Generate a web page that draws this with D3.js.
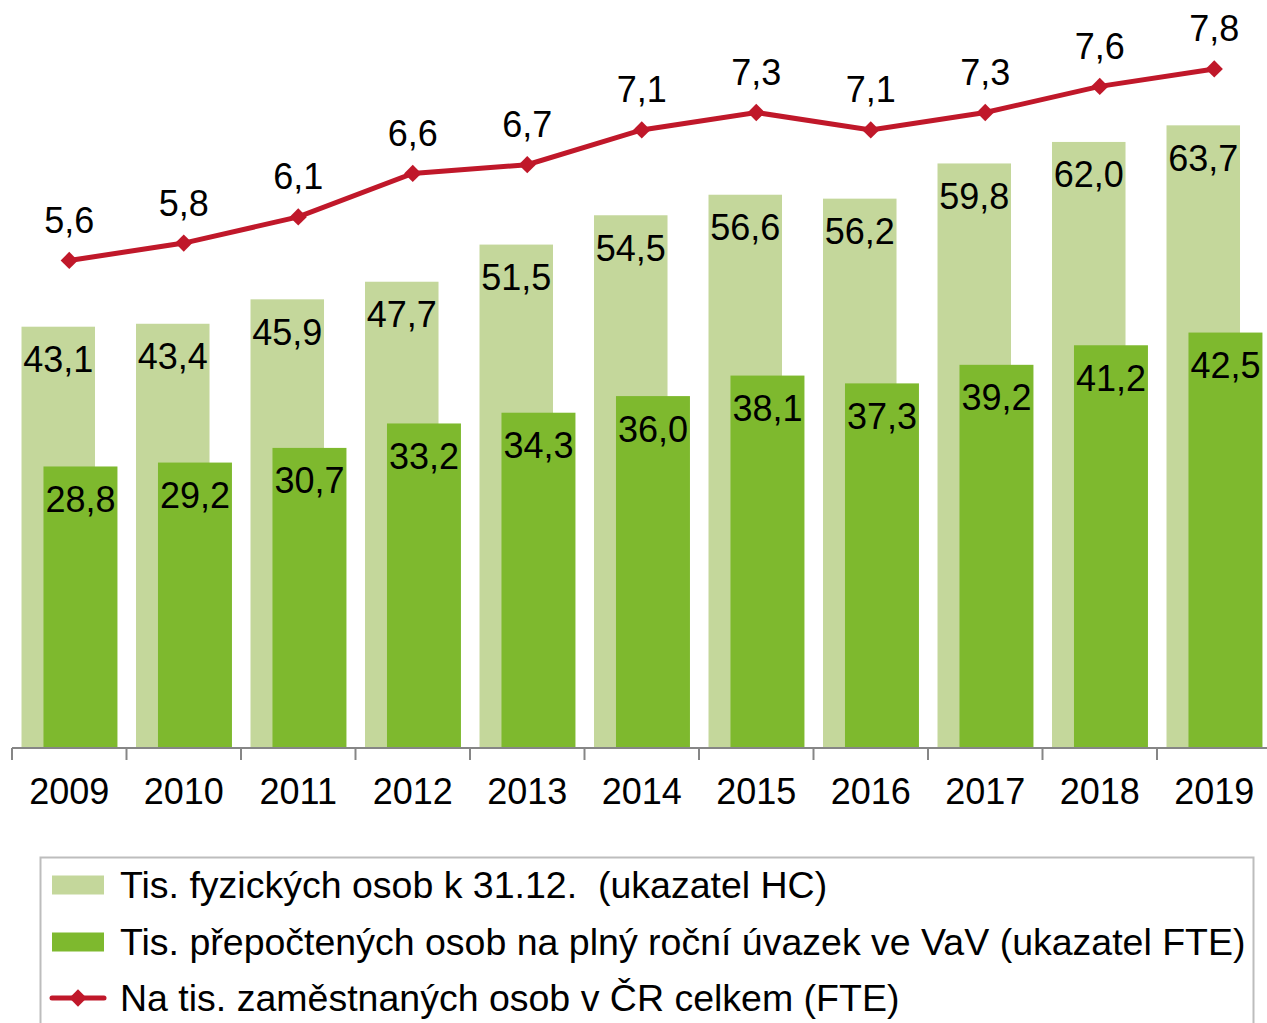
<!DOCTYPE html>
<html><head><meta charset="utf-8">
<script src="https://cdn.jsdelivr.net/npm/d3@7/dist/d3.min.js"></script>
<style>body{margin:0;background:#fff;} svg{display:block;font-family:"Liberation Sans",Arial,sans-serif;} text{white-space:pre;}</style>
</head><body>
<script>
const years = ["2009","2010","2011","2012","2013","2014","2015","2016","2017","2018","2019"];
const hcValues = [43.1,43.4,45.9,47.7,51.5,54.5,56.6,56.2,59.8,62.0,63.7];
const fteValues = [28.8,29.2,30.7,33.2,34.3,36.0,38.1,37.3,39.2,41.2,42.5];
const perThousand = [5.6,5.8,6.1,6.6,6.7,7.1,7.3,7.1,7.3,7.6,7.8];
const legendLabels = [
  "Tis. fyzických osob k 31.12.  (ukazatel HC)",
  "Tis. přepočtených osob na plný roční úvazek ve VaV (ukazatel FTE)",
  "Na tis. zaměstnaných osob v ČR celkem (FTE)"
];
const colors = {hc:"#C4D79B", fte:"#7EB92E", line:"#C0182A", axis:"#868686"};

const W = 1267, H = 1023;
const svg = d3.select("body").append("svg").attr("width", W).attr("height", H);
const fmt = v => v.toFixed(1).replace(".", ",");

const x = d3.scaleBand().domain(years).range([12, 1271.5]).padding(0);
const y = d3.scaleLinear().domain([0, 80]).range([748, -34]);
const y2 = d3.scaleLinear().domain([0, 9]).range([748, -35.5]);
const bw = x.bandwidth();
const hcOff = bw * 0.083, hcW = bw * 0.642;
const fteOff = bw * 0.275, fteW = bw * 0.646;

// HC bars
svg.append("g").selectAll("rect").data(years).join("rect")
  .attr("x", (d) => x(d) + hcOff).attr("width", hcW)
  .attr("y", (d,i) => y(hcValues[i])).attr("height", (d,i) => y(0) - y(hcValues[i]))
  .attr("fill", colors.hc);
// FTE bars
svg.append("g").selectAll("rect").data(years).join("rect")
  .attr("x", (d) => x(d) + fteOff).attr("width", fteW)
  .attr("y", (d,i) => y(fteValues[i])).attr("height", (d,i) => y(0) - y(fteValues[i]))
  .attr("fill", colors.fte);

const fs = 36;
// HC labels
svg.append("g").selectAll("text").data(years).join("text")
  .attr("x", d => x(d) + hcOff + hcW/2).attr("y", (d,i) => y(hcValues[i]) + 33)
  .attr("text-anchor","middle").attr("dominant-baseline","central")
  .attr("font-size", fs).attr("fill","#000").text((d,i) => fmt(hcValues[i]));
// FTE labels
svg.append("g").selectAll("text").data(years).join("text")
  .attr("x", d => x(d) + fteOff + fteW/2).attr("y", (d,i) => y(fteValues[i]) + 33)
  .attr("text-anchor","middle").attr("dominant-baseline","central")
  .attr("font-size", fs).attr("fill","#000").text((d,i) => fmt(fteValues[i]));

// Axis
const ax = svg.append("g").attr("transform","translate(0,748)");
ax.append("line").attr("x1", 12).attr("x2", W).attr("y1", 0).attr("y2", 0)
  .attr("stroke", colors.axis).attr("stroke-width", 2);
ax.selectAll("line.tick").data(years).join("line").attr("class","tick")
  .attr("x1", d => x(d)).attr("x2", d => x(d)).attr("y1", 0).attr("y2", 12)
  .attr("stroke", colors.axis).attr("stroke-width", 2);
ax.selectAll("text").data(years).join("text")
  .attr("x", d => x(d) + bw/2).attr("y", 56)
  .attr("text-anchor","middle").attr("font-size", fs).attr("fill","#000").text(d => d);

// Line
const lineGen = d3.line().x((d,i) => x(years[i]) + bw/2).y(d => y2(d));
svg.append("path").datum(perThousand).attr("d", lineGen)
  .attr("fill","none").attr("stroke", colors.line).attr("stroke-width", 5);
const diamond = d3.symbol(d3.symbolDiamond2 || d3.symbolDiamond, 190)();
svg.append("g").selectAll("path").data(perThousand).join("path")
  .attr("d", diamond)
  .attr("transform", (d,i) => `translate(${x(years[i]) + bw/2},${y2(d)})`)
  .attr("fill", colors.line);
svg.append("g").selectAll("text").data(perThousand).join("text")
  .attr("x", (d,i) => x(years[i]) + bw/2).attr("y", d => y2(d) - 40)
  .attr("text-anchor","middle").attr("dominant-baseline","central")
  .attr("font-size", fs).attr("fill","#000").text(d => fmt(d));

// Legend
const lg = svg.append("g");
lg.append("rect").attr("x", 40.5).attr("y", 857.5).attr("width", 1213).attr("height", 180)
  .attr("fill","#fff").attr("stroke","#BDBDBD").attr("stroke-width", 2);
const rowY = [885, 942, 998];
lg.append("rect").attr("x", 52).attr("y", rowY[0]-9.5).attr("width", 52).attr("height", 19).attr("fill", colors.hc);
lg.append("rect").attr("x", 52).attr("y", rowY[1]-9.5).attr("width", 52).attr("height", 19).attr("fill", colors.fte);
lg.append("line").attr("x1", 52).attr("x2", 104).attr("y1", rowY[2]).attr("y2", rowY[2])
  .attr("stroke", colors.line).attr("stroke-width", 5).attr("stroke-linecap","round");
lg.append("path").attr("d", diamond)
  .attr("transform", `translate(78,${rowY[2]})`).attr("fill", colors.line);
lg.selectAll("text").data(legendLabels).join("text")
  .attr("x", 120).attr("y", (d,i) => rowY[i]).attr("dominant-baseline","central")
  .attr("font-size", 37.5).attr("fill","#000").text(d => d);
</script>
</body></html>
